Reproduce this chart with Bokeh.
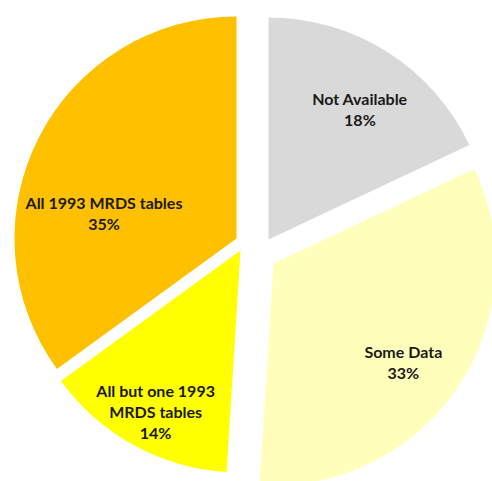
import math
from bokeh.plotting import figure
from bokeh.models import Range1d, ColumnDataSource
from bokeh.core.properties import value
from bokeh.embed import file_html
from bokeh.resources import INLINE

# ---- data ----
categories = ["Not Available", "Some Data", "All but one 1993\nMRDS tables", "All 1993 MRDS tables"]
percents = [18, 33, 14, 35]

# ---- style ----
colors = ["#D9D9D9", "#FFFFBB", "#FFFF00", "#FFC000"]
radius = 222
pie_center = (252, -248)
explode_dx = [16, 21, -12, -16]      # per-slice explosion offsets (px)
explode_dy = [9, -15, -2, 10]
label_dist = [159, 163, 182, 135]     # label distance from slice apex
label_nudge = [-2.7, -3.0, 1.0, 16.0]  # label angle nudge from bisector (deg)

W, H = 492, 481
p = figure(width=W, height=H, output_backend="svg", toolbar_location=None,
           x_range=Range1d(0, W), y_range=Range1d(-H, 0),
           min_border=0)
p.axis.visible = False
p.grid.visible = False
p.outline_line_color = None
p.background_fill_color = "white"
p.border_fill_color = "white"

total = sum(percents)
xs, ys, starts, ends, lx, ly, texts = [], [], [], [], [], [], []
cum = 0.0
for i, v in enumerate(percents):
    a0 = 90 - cum / total * 360
    cum += v
    a1 = 90 - cum / total * 360
    cx = pie_center[0] + explode_dx[i]
    cy = pie_center[1] + explode_dy[i]
    xs.append(cx)
    ys.append(cy)
    starts.append(math.radians(a1))
    ends.append(math.radians(a0))
    mid = math.radians((a0 + a1) / 2 + label_nudge[i])
    lx.append(cx + label_dist[i] * math.cos(mid))
    ly.append(cy + label_dist[i] * math.sin(mid))
    texts.append(f"{categories[i]}\n{v}%")

src = ColumnDataSource(dict(x=xs, y=ys, start=starts, end=ends, color=colors))
p.wedge(x="x", y="y", radius=radius, start_angle="start", end_angle="end",
        direction="anticlock", fill_color="color", line_color=None, source=src)

lsrc = ColumnDataSource(dict(x=lx, y=ly, text=texts))
p.text(x="x", y="y", text="text", source=lsrc, text_align="center",
       text_baseline="middle", text_font=value("Lato"), text_font_style="bold",
       text_font_size="16px", text_color="#1a1a1a", text_line_height=1.1)

open("out.html", "w").write(file_html(p, INLINE))
